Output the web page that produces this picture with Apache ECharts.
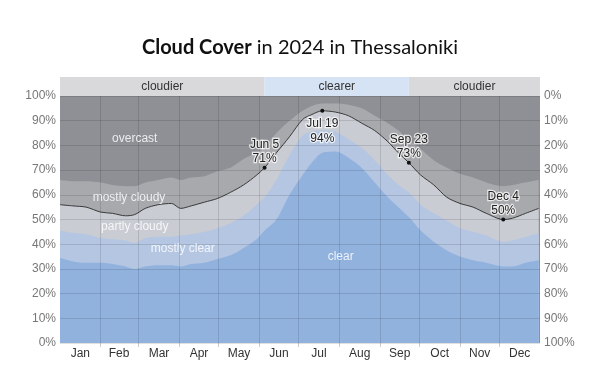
<!DOCTYPE html>
<html>
<head>
<meta charset="utf-8">
<script src="https://cdn.jsdelivr.net/npm/echarts@6/dist/echarts.min.js"></script>
<style>html,body{margin:0;padding:0;background:#fff}#c{width:600px;height:371px}</style>
</head>
<body>
<div id="c"></div>
<script>
// day-of-year (0 = Jan 1, 2024)
const days = [0,10,20,31,40,50,57,65,75,85,92,100,110,120,130,140,150,156,165,175,185,192,200,210,220,230,240,250,258,266,275,285,295,305,315,325,338,345,355,365];
// cumulative % of time (bottom-up): clear, +mostly clear, +partly cloudy, +mostly cloudy
const clearTop = [34.5,33,32.5,32.5,32,31,30,31,31.5,31.5,31,32,32.5,34,35.5,38.5,42,45.5,50,60,68,73,77,77.5,75,71,65,59,55,51,45.5,41,37.5,35,33.5,32.5,31,31,32.5,33.5];
const mostlyClearTop = [45.5,44.5,44,42.5,42,41.5,40.5,42.5,43,43,43.5,44,45,46.5,48.5,51.5,56,59,66,76,84,85.5,86,85.5,82.5,79,74,68,64,61,56,52.5,49.5,46.5,45,43.5,41,41.5,43,44.5];
const partlyCloudyTop = [56,55.5,55,53,52.5,51.5,52,54.5,56,56.5,54.5,55.5,57,58.5,61,64,68,71,77,83.5,90.5,92.5,94,93.5,92,89,86,81.5,77,73,68,64,59,56.5,55,52.5,50,50.5,52.5,54.5];
const mostlyCloudyTop = [66,65.5,65.5,65,64,63.5,63.5,65,66,67,66,67,67.5,69.5,71,74.5,77,79.5,85,90,94,96,97,97,96.5,95,92,89,86,82,78.5,74,71,68.5,67,65,63.5,64,65,66];

const months = ['Jan','Feb','Mar','Apr','May','Jun','Jul','Aug','Sep','Oct','Nov','Dec'];
const monthStarts = [0,31,60,91,121,152,182,213,244,274,305,335,366];
const monthMids = [15.5,45,75.5,106,136.5,167,197.5,228.5,259,289.5,320,350.5];
const yTicks = [0,10,20,30,40,50,60,70,80,90,100];

const annDays = [156,200,266,338];
const annNames = ['Jun 5','Jul 19','Sep 23','Dec 4'];
const annValues = [71,94,73,50];
const annPos = ['top','bottom','top','top'];

const bandNames = ['cloudier','clearer','cloudier'];
const bandStarts = [0,156,266];
const bandEnds = [156,266,366];

const areaLabels = [
  {name:'overcast', day:57, v:82.6},
  {name:'mostly cloudy', day:52.6, v:58.8},
  {name:'partly cloudy', day:57, v:47.1},
  {name:'mostly clear', day:93.6, v:38.35},
  {name:'clear', day:214, v:34.9}
];

const pairs = arr => days.map((d,i)=>[d,arr[i]]);
const font = 'Arial, "Liberation Sans", sans-serif';

function areaSeries(name, arr, color, extra) {
  return Object.assign({
    name, type:'line', xAxisIndex:0, yAxisIndex:0,
    data: pairs(arr), smooth:0.3, symbol:'none',
    lineStyle:{width:0}, areaStyle:{color, opacity:1, origin:'start'},
    silent:true, z:2
  }, extra||{});
}

const chart = echarts.init(document.getElementById('c'), null, {renderer:'canvas'});
chart.setOption({
  animation:false,
  title:{
    text:'{b|Cloud Cover}{n| in 2024 in Thessaloniki}',
    left:'center', top:33,
    textStyle:{rich:{
      b:{fontFamily:'Lato', fontSize:20, fontWeight:'bold', color:'#111'},
      n:{fontFamily:'Lato', fontSize:20, fontWeight:'normal', color:'#111'}
    }}
  },
  grid:[
    {left:60, right:60, top:96, bottom:28, show:true, backgroundColor:'#8e9095', borderWidth:0},
    {left:60, right:60, top:77, height:19, show:false}
  ],
  xAxis:[
    {type:'value', gridIndex:0, min:0, max:366,
     axisLine:{show:false}, splitLine:{show:false},
     axisTick:{show:true, customValues:monthStarts.slice(1,12), length:4, lineStyle:{color:'#ccc'}},
     axisLabel:{show:true, customValues:monthMids, color:'#333', fontSize:12, fontFamily:font, margin:5,
       formatter:(v)=>{const i=monthMids.indexOf(v); return i>=0?months[i]:'';}}
    },
    {type:'value', gridIndex:1, min:0, max:366, show:false}
  ],
  yAxis:[
    {type:'value', gridIndex:0, min:0, max:100, interval:10, position:'left',
     axisLine:{show:false}, axisTick:{show:false}, splitLine:{show:false},
     axisLabel:{formatter:'{value}%', color:'#777', fontSize:12, fontFamily:font, margin:4}},
    {type:'value', gridIndex:0, min:0, max:100, interval:10, position:'right', inverse:true,
     axisLine:{show:false}, axisTick:{show:false}, splitLine:{show:false},
     axisLabel:{formatter:'{value}%', color:'#777', fontSize:12, fontFamily:font, margin:4}},
    {type:'value', gridIndex:1, min:0, max:1, show:false}
  ],
  series:[
    areaSeries('mostly cloudy', mostlyCloudyTop, '#a7a9ad'),
    areaSeries('partly cloudy', partlyCloudyTop, '#c9ccd3', {
      lineStyle:{width:1, color:'#3a3a3a'},
      markPoint:{
        symbol:'circle', symbolSize:4, itemStyle:{color:'#111'},
        data: annDays.map((d,i)=>({
          coord:[d, annValues[i]],
          label:{show:true, position:annPos[i], distance: annPos[i]==='top'?0:3,
            formatter: annNames[i]+'\n'+annValues[i]+'%',
            color:'#222', fontSize:12, fontFamily:font, lineHeight: annPos[i]==='top'?14:15,
            textBorderColor:'rgba(255,255,255,0.75)', textBorderWidth:2.5}
        }))
      }
    }),
    areaSeries('mostly clear', mostlyClearTop, '#b4c6e2'),
    areaSeries('clear', clearTop, '#92b2de'),
    {
      name:'grid overlay', type:'line', xAxisIndex:0, yAxisIndex:0, data:[], z:5, silent:true,
      markLine:{
        silent:true, symbol:['none','none'], label:{show:false}, animation:false,
        lineStyle:{color:'rgba(0,0,0,0.12)', type:'solid', width:1},
        emphasis:{disabled:true},
        data:[...monthStarts.slice(1,12).map(d=>({xAxis:d})), ...yTicks.map(v=>({yAxis:v}))]
      },
      markPoint:{
        symbol:'circle', symbolSize:0,
        label:{show:true, position:'inside', color:'rgba(255,255,255,0.82)', fontSize:12, fontFamily:font,
          formatter:(p)=>p.name},
        data: areaLabels.map(a=>({name:a.name, coord:[a.day, a.v]}))
      }
    },
    {
      name:'bands', type:'line', xAxisIndex:1, yAxisIndex:2, data:[], silent:true,
      markArea:{
        silent:true,
        label:{show:true, position:'inside', color:'#333', fontSize:12, fontFamily:font},
        data: bandNames.map((n,i)=>[
          {name:n, xAxis:bandStarts[i], itemStyle:{color: n==='clearer' ? '#d5e3f4' : '#d9d9db'}},
          {xAxis:bandEnds[i]}
        ])
      }
    }
  ]
});
</script>
</body>
</html>
